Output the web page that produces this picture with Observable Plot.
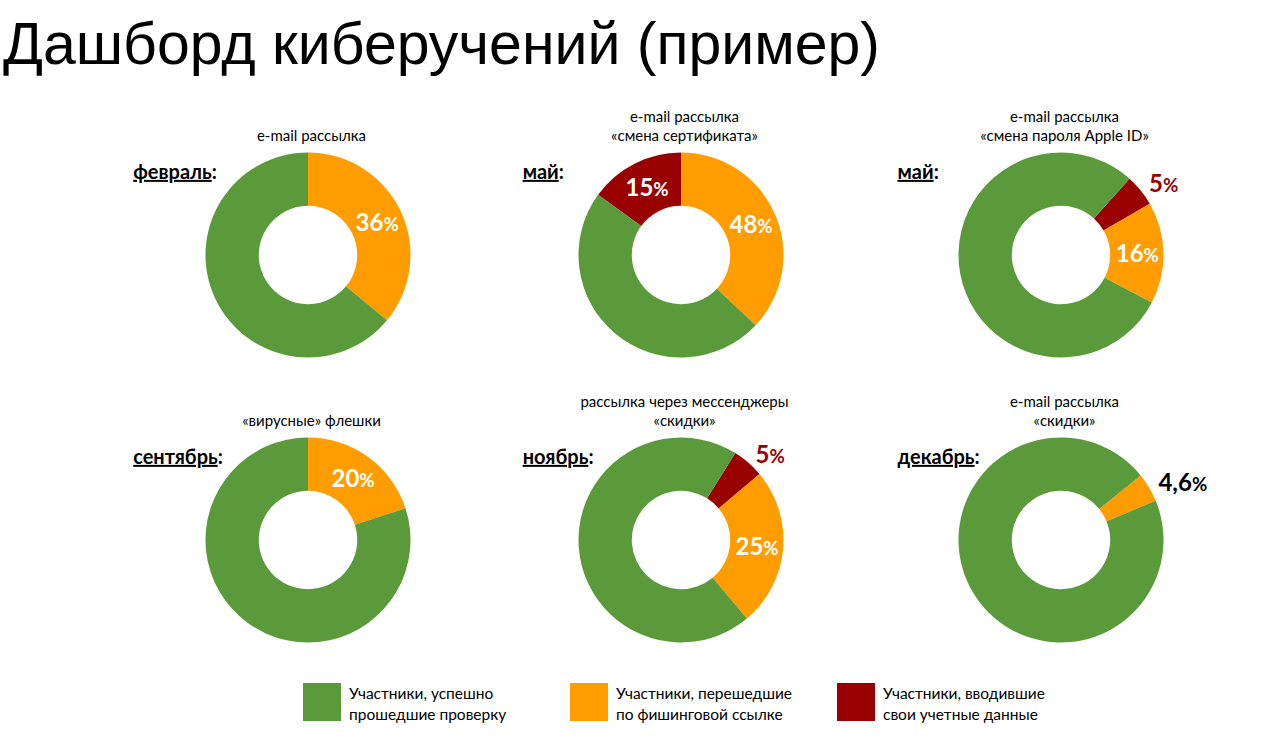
<!DOCTYPE html>
<html>
<head>
<meta charset="utf-8">
<script src="https://cdn.jsdelivr.net/npm/d3@7"></script>
<script src="https://cdn.jsdelivr.net/npm/@observablehq/plot@0.6"></script>
<style>
  html, body { margin: 0; padding: 0; background: #fff; }
  #page { position: relative; width: 1276px; height: 747px; overflow: hidden; background: #fff; }
  #title { position: absolute; left: 3px; top: 15px; font-family: "Liberation Sans", Arial, sans-serif; font-size: 59px; line-height: 59px; color: #000; white-space: nowrap; }
  .panel { position: absolute; }
  .panel svg { overflow: visible; display: block; }
  #legend { position: absolute; left: 303px; top: 683px; display: flex; font-family: Lato, "Open Sans", sans-serif; font-size: 15.5px; line-height: 21px; color: #000; }
  .item { width: 267px; display: flex; align-items: flex-start; }
  .swatch { width: 38px; height: 38px; flex: none; margin-right: 8px; }
  .label { white-space: pre-line; }
</style>
</head>
<body>
<div id="page">
  <div id="title">Дашборд киберучений (пример)</div>
  <div id="legend"></div>
</div>
<script>
// ---------- data ----------
const seriesKeys = ["passed", "clicked", "entered"];
const seriesNames = [
  "Участники, успешно\nпрошедшие проверку",
  "Участники, перешедшие\nпо фишинговой ссылке",
  "Участники, вводившие\nсвои учетные данные"
];
const seriesColors = ["#5b9a3b", "#ff9c00", "#990000"];

const months = ["февраль", "май", "май", "сентябрь", "ноябрь", "декабрь"];
const campaigns = [
  "e-mail рассылка",
  "e-mail рассылка\n«смена сертификата»",
  "e-mail рассылка\n«смена пароля Apple ID»",
  "«вирусные» флешки",
  "рассылка через мессенджеры\n«скидки»",
  "e-mail рассылка\n«скидки»"
];
const passedPct  = [64, 48, 79, 80, 70, 95.4];
const clickedPct = [36, 37, 16, 20, 25, 4.6];
const enteredPct = [0, 15, 5, 0, 5, 0];
const clickedLabels = ["36%", "48%", "16%", "20%", "25%", "4,6%"];
const enteredLabels = ["", "15%", "5%", "", "5%", ""];
const startAngles = [0, -54, 42, 0, 32, 51]; // rotation of the first slice, degrees

// ---------- layout ----------
const R = 102.5;          // outer radius, px
const HOLE = 0.48;        // inner radius / outer radius
const W = 400, H = 285, CX = 195, CY = 155;
const colCenters = [307.5, 680.5, 1060.5];
const rowCenters = [255, 540];
const monthOffsets = [-1.71, -1.55, -1.6];
const FONT = 'Lato, "Open Sans", sans-serif';

function ringMark(slices) {
  return (index, scales) => {
    const x0 = scales.x(0), y0 = scales.y(0);
    const r = Math.abs(scales.x(1) - x0);
    const color = (scales.color && typeof scales.color === "function") ? scales.color : d3.scaleOrdinal(seriesKeys, seriesColors);
    const arc = d3.arc().innerRadius(r * HOLE).outerRadius(r);
    const g = d3.create("svg:g").attr("aria-label", "donut").attr("transform", `translate(${x0},${y0})`);
    g.selectAll("path").data(slices.filter(s => s.value > 0)).join("path")
      .attr("d", s => arc({startAngle: s.a0, endAngle: s.a1}))
      .attr("fill", s => color(s.key));
    return g.node();
  };
}

const page = document.getElementById("page");

months.forEach((month, i) => {
  const values = {passed: passedPct[i], clicked: clickedPct[i], entered: enteredPct[i]};
  const texts = {passed: "", clicked: clickedLabels[i], entered: enteredLabels[i]};
  const order = ["entered", "clicked", "passed"];
  let a = startAngles[i] * Math.PI / 180;
  const slices = order.map(key => {
    const a0 = a, a1 = a + values[key] / 100 * 2 * Math.PI;
    a = a1;
    return {key, value: values[key], a0, a1, text: texts[key]};
  });
  const labels = slices.filter(s => s.text && s.value > 0).map(s => {
    const mid = (s.a0 + s.a1) / 2;
    const outside = s.value < 10;
    const rr = outside ? 1.1 : (1 + HOLE) / 2;
    return {x: rr * Math.sin(mid), y: rr * Math.cos(mid), text: s.text, key: s.key, outside};
  });
  const col = i % 3, row = Math.floor(i / 3);

  const svg = Plot.plot({
    width: W, height: H, margin: 0,
    style: {background: "transparent", overflow: "visible"},
    x: {domain: [-CX / R, (W - CX) / R], axis: null},
    y: {domain: [-(H - CY) / R, CY / R], axis: null},
    color: {domain: seriesKeys, range: seriesColors},
    marks: [
      ringMark(slices),
      Plot.text([{x: 0, y: 1, t: campaigns[i]}], {x: "x", y: "y", text: "t", lineAnchor: "bottom", dy: -12, dx: 3,
        fontSize: 15, lineHeight: 1.3, fill: "#000", fontFamily: FONT}),
      Plot.text([{x: monthOffsets[col], y: 0.81, t: month + ":"}], {x: "x", y: "y", text: "t", textAnchor: "start",
        fontSize: 20, fontWeight: "bold", fill: "#000", fontFamily: FONT}),
      Plot.text(labels.filter(d => !d.outside), {x: "x", y: "y", text: "text", fill: "white",
        fontSize: 24, fontWeight: "bold", fontFamily: FONT}),
      Plot.text(labels.filter(d => d.outside && d.key === "entered"), {x: "x", y: "y", text: "text", fill: "key",
        textAnchor: "start", fontSize: 24, fontWeight: "bold", fontFamily: FONT}),
      Plot.text(labels.filter(d => d.outside && d.key !== "entered"), {x: "x", y: "y", text: "text", fill: "#000",
        textAnchor: "start", fontSize: 24, fontWeight: "bold", fontFamily: FONT})
    ]
  });

  // smaller % sign and underlined month word
  svg.querySelectorAll("text").forEach(t => {
    if (t.querySelector("tspan")) return;
    const s = t.textContent;
    const ns = "http://www.w3.org/2000/svg";
    if (s.endsWith("%")) {
      t.textContent = s.slice(0, -1);
      const ts = document.createElementNS(ns, "tspan");
      ts.setAttribute("font-size", "0.78em");
      ts.textContent = "%";
      t.appendChild(ts);
    } else if (s.endsWith(":")) {
      t.textContent = "";
      const ts = document.createElementNS(ns, "tspan");
      ts.setAttribute("style", "text-decoration: underline");
      ts.textContent = s.slice(0, -1);
      t.appendChild(ts);
      t.appendChild(document.createTextNode(":"));
    }
  });

  const div = document.createElement("div");
  div.className = "panel";
  div.style.left = (colCenters[col] - CX) + "px";
  div.style.top = (rowCenters[row] - CY) + "px";
  div.style.width = W + "px";
  div.style.height = H + "px";
  div.appendChild(svg);
  page.appendChild(div);
});

// legend
const legend = d3.select("#legend");
seriesKeys.forEach((k, i) => {
  const item = legend.append("div").attr("class", "item");
  item.append("div").attr("class", "swatch").style("background", seriesColors[i]);
  item.append("div").attr("class", "label").text(seriesNames[i]);
});
</script>
</body>
</html>
